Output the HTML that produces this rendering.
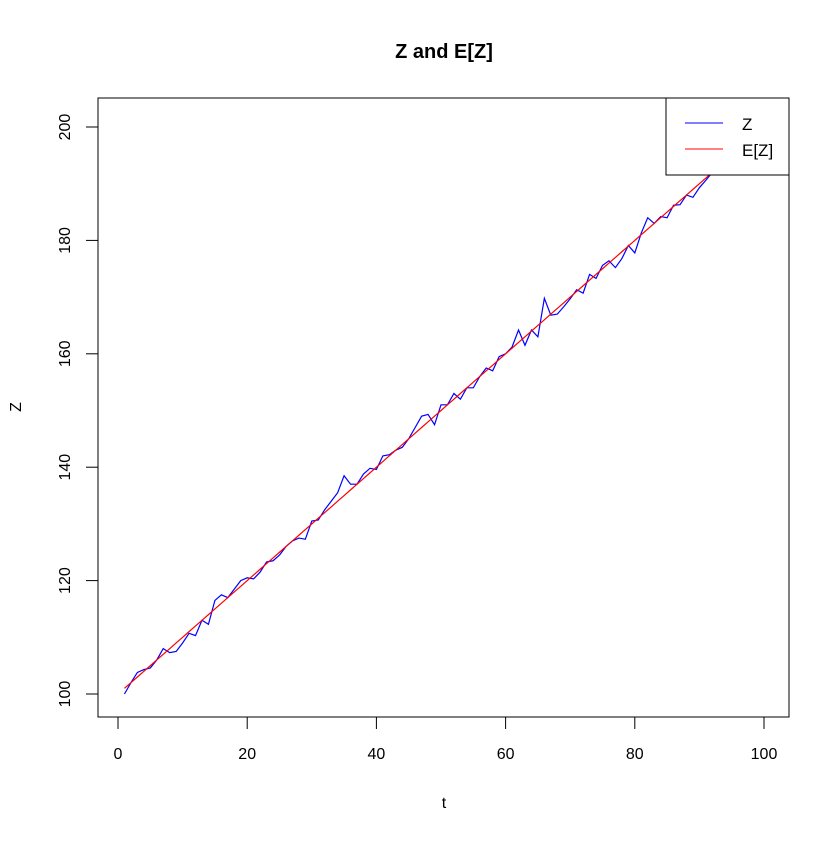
<!DOCTYPE html>
<html><head><meta charset="utf-8"><style>
body{margin:0;background:#fff}
text{font-family:"Liberation Sans",sans-serif;fill:#000}
</style></head><body>
<svg id="chart" width="840" height="840" xmlns="http://www.w3.org/2000/svg">
<rect width="840" height="840" fill="#fff"/>
<text x="444" y="58" font-size="20" font-weight="bold" text-anchor="middle">Z and E[Z]</text>
<text x="444" y="808" font-size="16" text-anchor="middle">t</text>
<text x="21" y="407" font-size="16" text-anchor="middle" transform="rotate(-90 21 407)">Z</text>
<g id="axes"></g>
<g id="series"></g>
<rect x="98" y="98" width="691" height="619" fill="none" stroke="#000" stroke-width="1"/>
<g>
<rect x="666" y="98" width="123" height="77" fill="#fff" stroke="#000" stroke-width="1"/>
<line x1="685" y1="123" x2="723" y2="123" stroke="#0000ff" stroke-width="1"/>
<text x="742" y="130" font-size="17">Z</text>
<line x1="685" y1="149" x2="723" y2="149" stroke="#ff0000" stroke-width="1"/>
<text x="742" y="156" font-size="17">E[Z]</text>
</g>
</svg>
<script>
const xTicks=[0,20,40,60,80,100];
const yTicks=[100,120,140,160,180,200];
const zValues=[100,102,103.8,104.3,104.6,106,108,107.3,107.5,109,110.7,110.3,113,112.3,116.5,117.5,117,118.5,120,120.5,120.3,121.5,123.3,123.5,124.5,126,127,127.5,127.3,130.5,130.7,132.5,134,135.5,138.5,137,137,138.8,139.8,139.6,142,142.2,143,143.5,145,147,149,149.3,147.5,151,151,153,152,154,154,156,157.5,157,159.5,160,161.2,164.2,161.5,164.2,163,169.8,166.8,167,168.3,169.7,171.3,170.7,174,173.3,175.6,176.4,175.2,176.8,179.1,177.8,181.3,184,183,184.2,184,186.2,186.3,188,187.6,189.3,190.6,192,193.5,194.5,195.8,196.5,197.6,198.5,199.3,200.5];
const ezValues=zValues.map((v,i)=>100+(i+1));
const NS="http://www.w3.org/2000/svg";
const sx=t=>118+t*6.46;
const sy=v=>694-(v-100)*5.67;
const axes=document.getElementById('axes');
const series=document.getElementById('series');
function mk(tag,attrs,parent){const e=document.createElementNS(NS,tag);for(const k in attrs)e.setAttribute(k,attrs[k]);parent.appendChild(e);return e;}
mk('line',{x1:sx(xTicks[0]),y1:717,x2:sx(xTicks[xTicks.length-1]),y2:717,stroke:'#000'},axes);
xTicks.forEach(t=>{
 const l=mk('line',{x1:sx(t),y1:717,x2:sx(t),y2:729,stroke:'#000'},axes);
 
 
 const tx=mk('text',{x:sx(t),y:759,'font-size':16,'text-anchor':'middle'},axes);
 tx.textContent=t;
 
 
});
mk('line',{x1:98,y1:sy(yTicks[0]),x2:98,y2:sy(yTicks[yTicks.length-1]),stroke:'#000'},axes);
yTicks.forEach(v=>{
 const l=mk('line',{x1:86,y1:sy(v),x2:98,y2:sy(v),stroke:'#000'},axes);
 
 
 const tx=mk('text',{x:70,y:sy(v),'font-size':16,'text-anchor':'middle',transform:`rotate(-90 70 ${sy(v)})`},axes);
 tx.textContent=v;
 
 
});
const zp=mk('polyline',{points:zValues.map((v,i)=>sx(i+1)+','+sy(v)).join(' '),fill:'none',stroke:'#0000ff','stroke-width':1.2},series);


const ep=mk('polyline',{points:ezValues.map((v,i)=>sx(i+1)+','+sy(v)).join(' '),fill:'none',stroke:'#ff0000','stroke-width':1.2},series);


</script>
</body></html>
